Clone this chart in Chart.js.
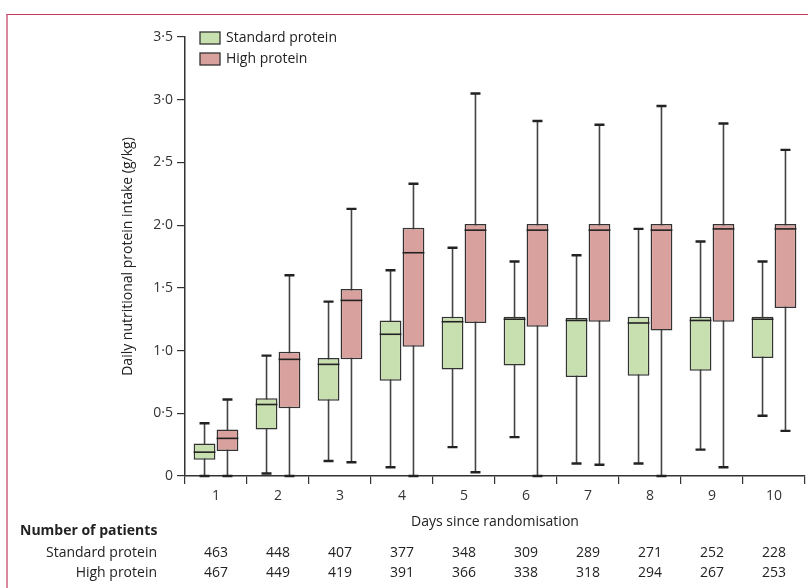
<!DOCTYPE html>
<html>
<head>
<meta charset="utf-8">
<script src="https://cdn.jsdelivr.net/npm/chart.js@4/dist/chart.umd.min.js"></script>
<style>
  body { margin: 0; background: #fff; }
  #wrap { position: relative; width: 808px; height: 588px; }
  #frame { position: absolute; left: 6px; top: 14px; right: 0; bottom: 0;
           border-top: 1px solid #c0385a; border-left: 2px solid #d9899f; pointer-events: none; }
  canvas { position: absolute; left: 0; top: 0; }
</style>
</head>
<body>
<div id="wrap">
  <canvas id="chart" width="808" height="588"></canvas>
  <div id="frame"></div>
</div>
<script>
const days = ['1', '2', '3', '4', '5', '6', '7', '8', '9', '10'];

// standard protein
const stdMin = [0, 0.02, 0.12, 0.07, 0.23, 0.31, 0.10, 0.10, 0.21, 0.48];
const stdQ1  = [0.13, 0.37, 0.60, 0.76, 0.85, 0.88, 0.79, 0.80, 0.84, 0.94];
const stdMed = [0.19, 0.57, 0.89, 1.13, 1.23, 1.25, 1.24, 1.22, 1.24, 1.25];
const stdQ3  = [0.26, 0.62, 0.94, 1.24, 1.27, 1.27, 1.26, 1.27, 1.27, 1.27];
const stdMax = [0.42, 0.96, 1.39, 1.64, 1.82, 1.71, 1.76, 1.97, 1.87, 1.71];

// high protein
const highMin = [0, 0, 0.11, 0, 0.03, 0, 0.09, 0, 0.07, 0.36];
const highQ1  = [0.20, 0.54, 0.93, 1.03, 1.22, 1.19, 1.23, 1.16, 1.23, 1.34];
const highMed = [0.30, 0.93, 1.40, 1.78, 1.96, 1.96, 1.96, 1.96, 1.97, 1.97];
const highQ3  = [0.37, 0.99, 1.49, 1.98, 2.01, 2.01, 2.01, 2.01, 2.01, 2.01];
const highMax = [0.61, 1.60, 2.13, 2.33, 3.05, 2.83, 2.80, 2.95, 2.81, 2.60];

// number of patients
const stdN  = [463, 448, 407, 377, 348, 309, 289, 271, 252, 228];
const highN = [467, 449, 419, 391, 366, 338, 318, 294, 267, 253];

const FONT = "'Open Sans', 'DejaVu Sans', sans-serif";
const INK = '#222';
const LINE = '#333';

const stats = [
    { min: stdMin, med: stdMed, max: stdMax },
    { min: highMin, med: highMed, max: highMax }
];

// whiskers behind the boxes, medians on top
const boxParts = {
    id: 'boxParts',
    beforeDatasetsDraw(chart) {
        const ctx = chart.ctx, y = chart.scales.y;
        ctx.save();
        ctx.strokeStyle = '#444';
        stats.forEach((s, i) => {
            chart.getDatasetMeta(i).data.forEach((bar, j) => {
                const yMin = y.getPixelForValue(s.min[j]);
                const yMax = y.getPixelForValue(s.max[j]);
                ctx.lineWidth = 1.6;
                ctx.beginPath();
                ctx.moveTo(bar.x, yMin);
                ctx.lineTo(bar.x, yMax);
                ctx.stroke();
                ctx.lineWidth = 2.4;
                ctx.strokeStyle = '#222';
                ctx.beginPath();
                ctx.moveTo(bar.x - 5, yMin); ctx.lineTo(bar.x + 5, yMin);
                ctx.moveTo(bar.x - 5, yMax); ctx.lineTo(bar.x + 5, yMax);
                ctx.stroke();
                ctx.strokeStyle = '#444';
            });
        });
        ctx.restore();
    },
    afterDatasetsDraw(chart) {
        const ctx = chart.ctx, y = chart.scales.y;
        ctx.save();
        ctx.strokeStyle = '#222';
        ctx.lineWidth = 1.6;
        stats.forEach((s, i) => {
            chart.getDatasetMeta(i).data.forEach((bar, j) => {
                const ym = y.getPixelForValue(s.med[j]);
                ctx.beginPath();
                ctx.moveTo(bar.x - bar.width / 2, ym);
                ctx.lineTo(bar.x + bar.width / 2, ym);
                ctx.stroke();
            });
        });
        ctx.restore();
    },
    afterDraw(chart) {
        const ctx = chart.ctx, x = chart.scales.x;
        ctx.save();
        // legend
        chart.data.datasets.forEach((ds, i) => {
            const top = 32 + i * 21;
            ctx.fillStyle = ds.backgroundColor;
            ctx.fillRect(200, top, 20, 12);
            ctx.strokeStyle = LINE;
            ctx.lineWidth = 1.3;
            ctx.strokeRect(200, top, 20, 12);
            ctx.fillStyle = INK;
            ctx.font = '14px ' + FONT;
            ctx.textAlign = 'left';
            ctx.textBaseline = 'middle';
            ctx.fillText(ds.label, 226, top + 6);
        });
        // number of patients table
        ctx.fillStyle = INK;
        ctx.font = 'bold 14px ' + FONT;
        ctx.textAlign = 'left';
        ctx.fillText('Number of patients', 20, 531);
        ctx.font = '14px ' + FONT;
        ctx.textAlign = 'right';
        ctx.fillText('Standard protein', 157, 553);
        ctx.fillText('High protein', 157, 573);
        ctx.textAlign = 'center';
        days.forEach((d, j) => {
            const px = x.getPixelForValue(j);
            ctx.fillText(String(stdN[j]), px, 553);
            ctx.fillText(String(highN[j]), px, 573);
        });
        ctx.restore();
    }
};

new Chart(document.getElementById('chart'), {
    type: 'bar',
    data: {
        labels: days,
        datasets: [{
            label: 'Standard protein',
            data: stdQ1.map((q, j) => [q, stdQ3[j]]),
            backgroundColor: '#c8dfb0',
            borderColor: LINE,
            borderWidth: 1.5,
            borderSkipped: false
        }, {
            label: 'High protein',
            data: highQ1.map((q, j) => [q, highQ3[j]]),
            backgroundColor: '#d9a19d',
            borderColor: LINE,
            borderWidth: 1.5,
            borderSkipped: false
        }]
    },
    options: {
        responsive: false,
        animation: false,
        categoryPercentage: 0.74,
        barPercentage: 0.95,
        layout: { padding: { top: 37, right: 3, left: 0, bottom: 0 } },
        plugins: { legend: { display: false }, tooltip: { enabled: false } },
        scales: {
            x: {
                afterFit(scale) { scale.height = 112; },
                grid: { drawOnChartArea: false, offset: true, tickLength: 8, color: LINE, lineWidth: 1.2 },
                border: { color: LINE, width: 1.5 },
                ticks: { color: '#333', padding: 4, font: { family: FONT, size: 14 } },
                title: {
                    display: true, text: 'Days since randomisation', color: INK,
                    font: { family: FONT, size: 14 }, padding: { top: 0, bottom: 58 }
                }
            },
            y: {
                min: 0, max: 3.5,
                afterFit(scale) { scale.width = 185; },
                grid: { drawOnChartArea: false, tickLength: 8, color: LINE, lineWidth: 1.2 },
                border: { color: LINE, width: 1.5 },
                ticks: {
                    stepSize: 0.5, color: '#333', padding: 4,
                    font: { family: FONT, size: 14 },
                    callback: v => v === 0 ? '0' : v.toFixed(1).replace('.', '\u00b7')
                },
                title: {
                    display: true, text: 'Daily nutritional protein intake (g/kg)', color: INK,
                    font: { family: FONT, size: 14 }, padding: { top: 120, bottom: 0 }
                }
            }
        }
    },
    plugins: [boxParts]
});
</script>
</body>
</html>
